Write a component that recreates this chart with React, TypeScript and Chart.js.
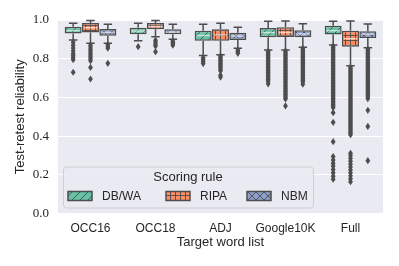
import React, { useEffect, useRef } from 'react';
import { Chart, registerables } from 'chart.js';

Chart.register(...registerables);

const categories = ['OCC16', 'OCC18', 'ADJ', 'Google10K', 'Full'];
const hues = ['DB/WA', 'RIPA', 'NBM'];
const hueColors = ['#66c2a5', '#fc8d62', '#8da0cb'];
const hueHatches = ['/', '+', 'x'];
const yTicks = [0, 0.2, 0.4, 0.6, 0.8, 1.0];

// [whisker low, q1, median, q3, whisker high] per category
const dbwaStats = [
  [0.897, 0.93, 0.945, 0.965, 0.983],
  [0.893, 0.926, 0.943, 0.96, 0.983],
  [0.816, 0.893, 0.92, 0.945, 0.978],
  [0.845, 0.911, 0.935, 0.959, 0.993],
  [0.871, 0.925, 0.945, 0.97, 0.993],
];
const ripaStats = [
  [0.88, 0.935, 0.96, 0.985, 0.997],
  [0.914, 0.952, 0.967, 0.985, 0.997],
  [0.82, 0.893, 0.922, 0.952, 0.983],
  [0.845, 0.912, 0.936, 0.962, 0.995],
  [0.764, 0.862, 0.903, 0.945, 0.995],
];
const nbmStats = [
  [0.88, 0.919, 0.936, 0.953, 0.978],
  [0.9, 0.926, 0.938, 0.952, 0.978],
  [0.854, 0.897, 0.917, 0.934, 0.962],
  [0.859, 0.911, 0.928, 0.947, 0.981],
  [0.857, 0.907, 0.927, 0.942, 0.979],
];

// isolated outliers per category
const dbwaOutliers = [
  [0.885, 0.87, 0.855, 0.84, 0.825, 0.815, 0.805, 0.795, 0.73],
  [0.862],
  [0.805, 0.795, 0.785, 0.775],
  [0.67],
  [0.521, 0.471, 0.371, 0.294, 0.276, 0.26, 0.245, 0.228, 0.21, 0.193, 0.177],
];
const ripaOutliers = [
  [0.87, 0.86, 0.85, 0.84, 0.83, 0.82, 0.81, 0.8, 0.79, 0.755, 0.695],
  [0.895, 0.885, 0.875, 0.865, 0.836],
  [0.715, 0.705],
  [0.556],
  [0.311, 0.3, 0.285, 0.27, 0.255, 0.24, 0.225, 0.21, 0.195, 0.18, 0.164],
];
const nbmOutliers = [
  [0.872, 0.862, 0.854, 0.776],
  [0.892, 0.885, 0.878, 0.87],
  [0.845, 0.836, 0.828],
  [0.668],
  [0.533, 0.45, 0.273],
];

// dense runs of outliers [low, high] per category (null = none)
const dbwaDense = [null, null, null, [0.68, 0.838], [0.545, 0.865]];
const ripaDense = [null, null, [0.73, 0.815], [0.59, 0.84], [0.406, 0.756]];
const nbmDense = [null, null, null, [0.68, 0.852], [0.59, 0.85]];

const allStats = [dbwaStats, ripaStats, nbmStats];
const allOutliers = [dbwaOutliers, ripaOutliers, nbmOutliers];
const allDense = [dbwaDense, ripaDense, nbmDense];

const EDGE = '#4d4d4d';
const TEXT = '#262626';
const SANS = "'Liberation Sans', 'DejaVu Sans', sans-serif";
const SERIF = "'Liberation Serif', 'DejaVu Serif', serif";

function makePattern(ctx: CanvasRenderingContext2D, kind: string, color: string) {
  const size = kind === '+' ? 5 : 8;
  const c = document.createElement('canvas');
  c.width = size;
  c.height = size;
  const g = c.getContext('2d')!;
  g.fillStyle = color;
  g.fillRect(0, 0, size, size);
  g.strokeStyle = 'rgba(70,70,70,0.85)';
  g.lineWidth = 1;
  g.beginPath();
  if (kind === '/') {
    g.moveTo(-1, size + 1);
    g.lineTo(size + 1, -1);
    g.moveTo(-1, 1);
    g.lineTo(1, -1);
    g.moveTo(size - 1, size + 1);
    g.lineTo(size + 1, size - 1);
  } else if (kind === '+') {
    g.moveTo(0.5, 0);
    g.lineTo(0.5, size);
    g.moveTo(0, 0.5);
    g.lineTo(size, 0.5);
  } else {
    g.moveTo(-1, size + 1);
    g.lineTo(size + 1, -1);
    g.moveTo(-1, -1);
    g.lineTo(size + 1, size + 1);
  }
  g.stroke();
  return ctx.createPattern(c, 'repeat')!;
}

function diamond(ctx: CanvasRenderingContext2D, x: number, y: number) {
  const w = 2.4;
  const h = 3.6;
  ctx.beginPath();
  ctx.moveTo(x, y - h);
  ctx.lineTo(x + w, y);
  ctx.lineTo(x, y + h);
  ctx.lineTo(x - w, y);
  ctx.closePath();
  ctx.fill();
}

export default function App() {
  const ref = useRef<HTMLCanvasElement | null>(null);

  useEffect(() => {
    const canvas = ref.current!;
    const ctx0 = canvas.getContext('2d')!;
    const patterns = hueColors.map((c, i) => makePattern(ctx0, hueHatches[i], c));

    const extras = {
      id: 'boxExtras',
      beforeDraw(chart: any) {
        const { ctx, chartArea: a } = chart;
        ctx.save();
        ctx.fillStyle = '#eaeaf2';
        ctx.fillRect(a.left, a.top, a.right - a.left, a.bottom - a.top);
        ctx.restore();
      },
      afterDatasetsDraw(chart: any) {
        const { ctx } = chart;
        const y = chart.scales.y;
        ctx.save();
        allStats.forEach((stats, h) => {
          const meta = chart.getDatasetMeta(h);
          stats.forEach((s, i) => {
            const bar = meta.data[i];
            const cx = bar.x;
            const bw = bar.width;
            const [lo, q1, med, q3, hi] = s;
            ctx.strokeStyle = EDGE;
            ctx.lineWidth = 1.5;
            ctx.beginPath();
            ctx.moveTo(cx, y.getPixelForValue(q3));
            ctx.lineTo(cx, y.getPixelForValue(hi));
            ctx.moveTo(cx, y.getPixelForValue(q1));
            ctx.lineTo(cx, y.getPixelForValue(lo));
            ctx.moveTo(cx - bw / 4, y.getPixelForValue(hi));
            ctx.lineTo(cx + bw / 4, y.getPixelForValue(hi));
            ctx.moveTo(cx - bw / 4, y.getPixelForValue(lo));
            ctx.lineTo(cx + bw / 4, y.getPixelForValue(lo));
            ctx.stroke();
            // median
            ctx.strokeStyle = 'rgba(255,255,255,0.6)';
            ctx.lineWidth = 1.5;
            ctx.beginPath();
            ctx.moveTo(cx - bw / 2 + 2, y.getPixelForValue(med));
            ctx.lineTo(cx + bw / 2 - 2, y.getPixelForValue(med));
            ctx.stroke();
            // outliers
            ctx.fillStyle = EDGE;
            const dense = allDense[h][i];
            if (dense) {
              const pTop = y.getPixelForValue(dense[1]);
              const pBot = y.getPixelForValue(dense[0]);
              for (let p = pTop; p <= pBot; p += 1.5) diamond(ctx, cx, p);
            }
            allOutliers[h][i].forEach((v) => diamond(ctx, cx, y.getPixelForValue(v)));
          });
        });
        ctx.restore();
      },
      afterDraw(chart: any) {
        const { ctx, chartArea: a } = chart;
        const lx = a.left + 5;
        const ly = a.bottom - 47;
        const lw = 250;
        const lh = 41;
        ctx.save();
        ctx.beginPath();
        (ctx as any).roundRect(lx + 0.5, ly + 0.5, lw, lh, 3);
        ctx.fillStyle = 'rgba(234,234,242,0.85)';
        ctx.fill();
        ctx.strokeStyle = 'rgba(204,204,204,0.9)';
        ctx.lineWidth = 1;
        ctx.stroke();
        ctx.fillStyle = TEXT;
        ctx.font = `13px ${SANS}`;
        ctx.textAlign = 'center';
        ctx.textBaseline = 'middle';
        ctx.fillText('Scoring rule', lx + lw / 2, ly + 11);
        const px = [5, 103, 184];
        hues.forEach((name, h) => {
          const x0 = lx + px[h];
          const y0 = ly + 25;
          ctx.fillStyle = patterns[h];
          ctx.fillRect(x0, y0, 24, 9);
          ctx.strokeStyle = EDGE;
          ctx.lineWidth = 1.5;
          ctx.strokeRect(x0, y0, 24, 9);
          ctx.fillStyle = TEXT;
          ctx.font = `12px ${SANS}`;
          ctx.textAlign = 'left';
          ctx.fillText(name, x0 + 34, y0 + 5);
        });
        ctx.restore();
      },
    };

    const chart = new Chart(canvas, {
      type: 'bar',
      data: {
        labels: categories,
        datasets: allStats.map((stats, h) => ({
          label: hues[h],
          data: stats.map((s) => [s[1], s[3]] as [number, number]),
          backgroundColor: patterns[h],
          borderColor: EDGE,
          borderWidth: 1.5,
          borderSkipped: false,
          categoryPercentage: 0.8,
          barPercentage: 0.98,
        })),
      },
      options: {
        responsive: false,
        animation: false,
        devicePixelRatio: 1,
        layout: { padding: { top: 20, right: 16, left: 0, bottom: 0 } },
        plugins: { legend: { display: false }, tooltip: { enabled: false } },
        scales: {
          x: {
            grid: { display: false, drawTicks: false },
            border: { display: false },
            ticks: {
              color: TEXT,
              font: { family: SANS, size: 12 },
              padding: 8,
              maxRotation: 0,
              minRotation: 0,
              autoSkip: false,
            },
            title: {
              display: true,
              text: 'Target word list',
              color: TEXT,
              font: { family: SANS, size: 13 },
              padding: { top: 0, bottom: 16 },
            },
            afterFit: (s: any) => {
              s.height = 52.5;
            },
          },
          y: {
            min: 0,
            max: 1,
            afterBuildTicks: (s: any) => {
              s.ticks = yTicks.map((v) => ({ value: v }));
            },
            ticks: {
              color: TEXT,
              font: { family: SERIF, size: 13 },
              padding: 9,
              callback: (v: any) => Number(v).toFixed(1),
            },
            grid: { color: '#ffffff', lineWidth: 1, drawTicks: false },
            border: { display: false },
            title: {
              display: true,
              text: 'Test-retest reliability',
              color: TEXT,
              font: { family: SANS, size: 13 },
              padding: { top: 13, bottom: 0 },
            },
            afterFit: (s: any) => {
              s.width = 58;
            },
          },
        },
      },
      plugins: [extras],
    } as any);

    return () => chart.destroy();
  }, []);

  return (
    <div style={{ position: 'fixed', left: 0, top: 0, width: 399, height: 266, background: '#fff' }}>
      <canvas ref={ref} width={399} height={266} />
    </div>
  );
}
